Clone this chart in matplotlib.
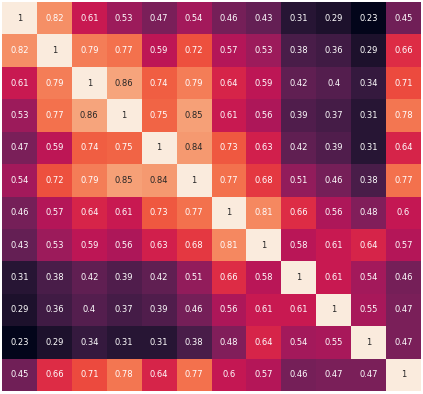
import numpy as np
import matplotlib
matplotlib.use('Agg')
import matplotlib.pyplot as plt
import seaborn as sns

# --- DATA ---
row_00 = [1, 0.82, 0.61, 0.53, 0.47, 0.54, 0.46, 0.43, 0.31, 0.29, 0.23, 0.45]
row_01 = [0.82, 1, 0.79, 0.77, 0.59, 0.72, 0.57, 0.53, 0.38, 0.36, 0.29, 0.66]
row_02 = [0.61, 0.79, 1, 0.86, 0.74, 0.79, 0.64, 0.59, 0.42, 0.4, 0.34, 0.71]
row_03 = [0.53, 0.77, 0.86, 1, 0.75, 0.85, 0.61, 0.56, 0.39, 0.37, 0.31, 0.78]
row_04 = [0.47, 0.59, 0.74, 0.75, 1, 0.84, 0.73, 0.63, 0.42, 0.39, 0.31, 0.64]
row_05 = [0.54, 0.72, 0.79, 0.85, 0.84, 1, 0.77, 0.68, 0.51, 0.46, 0.38, 0.77]
row_06 = [0.46, 0.57, 0.64, 0.61, 0.73, 0.77, 1, 0.81, 0.66, 0.56, 0.48, 0.6]
row_07 = [0.43, 0.53, 0.59, 0.56, 0.63, 0.68, 0.81, 1, 0.58, 0.61, 0.64, 0.57]
row_08 = [0.31, 0.38, 0.42, 0.39, 0.42, 0.51, 0.66, 0.58, 1, 0.61, 0.54, 0.46]
row_09 = [0.29, 0.36, 0.4, 0.37, 0.39, 0.46, 0.56, 0.61, 0.61, 1, 0.55, 0.47]
row_10 = [0.23, 0.29, 0.34, 0.31, 0.31, 0.38, 0.48, 0.64, 0.54, 0.55, 1, 0.47]
row_11 = [0.45, 0.66, 0.71, 0.78, 0.64, 0.77, 0.6, 0.57, 0.46, 0.47, 0.47, 1]

corr = np.array([row_00, row_01, row_02, row_03, row_04, row_05,
                 row_06, row_07, row_08, row_09, row_10, row_11])

fig = plt.figure(figsize=(4.23, 3.94), dpi=100)
ax = fig.add_axes([2 / 423, 3 / 394, 419 / 423, 389 / 394])
sns.heatmap(corr, ax=ax, cmap='rocket', annot=True, fmt='.2g',
            annot_kws={'fontsize': 6}, cbar=False,
            xticklabels=False, yticklabels=False)
ax.set_xticks([])
ax.set_yticks([])

fig.savefig('out.png', dpi=100)
